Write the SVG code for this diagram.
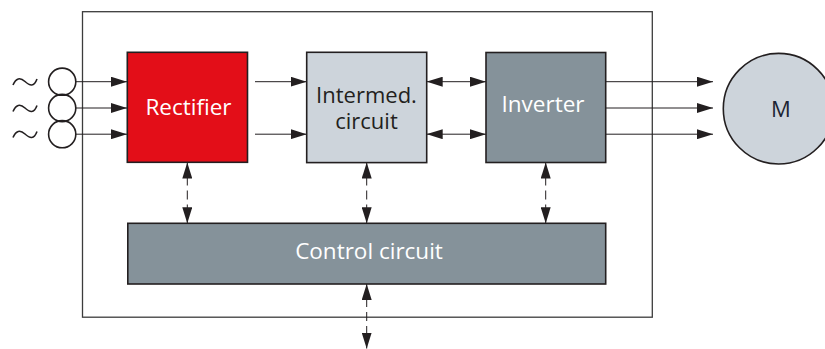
<svg xmlns="http://www.w3.org/2000/svg" width="825" height="349" viewBox="0 0 825 349">
<style>
.box{stroke:#231f20;stroke-width:1.6}
.ln{stroke:#231f20;stroke-width:1;fill:none}
.dl{stroke:#231f20;stroke-width:1;fill:none;stroke-dasharray:9,5}
.wt{font-family:"Open Sans","Noto Sans",sans-serif;font-size:22.5px;fill:#ffffff;text-anchor:middle}
.dk{font-family:"Open Sans","Noto Sans",sans-serif;font-size:22px;fill:#231f20;text-anchor:middle}
.sym{stroke:#231f20;stroke-width:1.6;fill:none}
</style>
<defs>
<marker id="ah" viewBox="0 0 16 10" refX="16" refY="5" markerWidth="16" markerHeight="10" markerUnits="userSpaceOnUse" orient="auto-start-reverse">
<path d="M0,0 L16,5 L0,10 z" fill="#231f20"/>
</marker>
</defs>
<rect id="frame" x="82.5" y="11.7" width="569.8" height="305.5" fill="#ffffff" stroke="#3c3c3c" stroke-width="1.3"/>
<g id="supply">
<path class="sym" d="M13,85 C16,78 20,77 25,81.5 S34,87 37,79"/>
<path class="sym" d="M13,111.5 C16,104.5 20,103.5 25,108 S34,113.5 37,105.5"/>
<path class="sym" d="M13,137.5 C16,130.5 20,129.5 25,134 S34,139.5 37,131.5"/>
<circle class="sym" cx="62.2" cy="81.7" r="13.6" fill="#ffffff"/>
<circle class="sym" cx="62.2" cy="108" r="13.6" fill="#ffffff"/>
<circle class="sym" cx="62.2" cy="134.2" r="13.6" fill="#ffffff"/>
</g>
<g id="connectors">
<line class="ln" x1="76" y1="81.7" x2="127" y2="81.7" marker-end="url(#ah)"/>
<line class="ln" x1="76" y1="108" x2="127" y2="108" marker-end="url(#ah)"/>
<line class="ln" x1="76" y1="134.2" x2="127" y2="134.2" marker-end="url(#ah)"/>
<line class="ln" x1="255" y1="81.7" x2="306.7" y2="81.7" marker-end="url(#ah)"/>
<line class="ln" x1="255" y1="134.2" x2="306.7" y2="134.2" marker-end="url(#ah)"/>
<line class="ln" x1="426.7" y1="81.7" x2="486" y2="81.7" marker-start="url(#ah)" marker-end="url(#ah)"/>
<line class="ln" x1="426.7" y1="134.2" x2="486" y2="134.2" marker-start="url(#ah)" marker-end="url(#ah)"/>
<line class="ln" x1="606" y1="81.7" x2="713" y2="81.7" marker-end="url(#ah)"/>
<line class="ln" x1="606" y1="108" x2="713" y2="108" marker-end="url(#ah)"/>
<line class="ln" x1="606" y1="134.2" x2="713" y2="134.2" marker-end="url(#ah)"/>
<line class="dl" x1="187.3" y1="162.5" x2="187.3" y2="223.3" marker-start="url(#ah)" marker-end="url(#ah)"/>
<line class="dl" x1="366.7" y1="162.5" x2="366.7" y2="223.3" marker-start="url(#ah)" marker-end="url(#ah)"/>
<line class="dl" x1="545.7" y1="162.5" x2="545.7" y2="223.3" marker-start="url(#ah)" marker-end="url(#ah)"/>
<line class="dl" x1="366.7" y1="284" x2="366.7" y2="348.5" marker-start="url(#ah)" marker-end="url(#ah)"/>
</g>
<g id="rectifier">
<rect class="box" x="127.3" y="52.3" width="120.2" height="110" fill="#e30e18"/>
<text class="wt" x="188.5" y="115">Rectifier</text>
</g>
<g id="intermed">
<rect class="box" x="306.7" y="52.3" width="120" height="110.3" fill="#cdd4db"/>
<text class="dk" x="366.5" y="103.3">Intermed.</text>
<text class="dk" x="366.5" y="128.5">circuit</text>
</g>
<g id="inverter">
<rect class="box" x="486" y="52.5" width="119.7" height="110" fill="#85929a"/>
<text class="wt" x="543" y="112">Inverter</text>
</g>
<g id="control">
<rect class="box" x="127.8" y="223.3" width="477.9" height="60.7" fill="#85929a"/>
<text class="wt" x="369" y="258.5">Control circuit</text>
</g>
<g id="motor">
<circle cx="778.6" cy="108.7" r="55.3" fill="#cdd4db" stroke="#231f20" stroke-width="1.6"/>
<text class="dk" x="781" y="116.5" style="fill:#1c2433">M</text>
</g>
</svg>
